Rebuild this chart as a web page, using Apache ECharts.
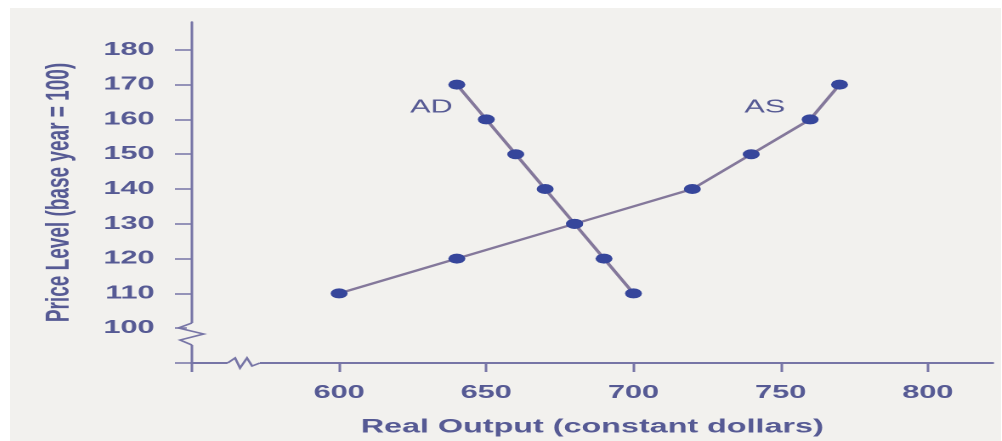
<!DOCTYPE html>
<html lang="en">
<head>
    <meta charset="UTF-8">
    <title>AD / AS</title>
    <script src="https://cdn.jsdelivr.net/npm/echarts@6.0.0/dist/echarts.min.js"></script>
    <style>
        *{
            margin: 0;
            padding: 0;
        }
        body{
            background: #fff;
            width: 1002px;
            height: 441px;
            overflow: hidden;
            position: relative;
        }
        /* the source figure is stretched sideways, so draw narrow and widen it */
        .container{
            position: absolute;
            left: 10px;
            top: 8px;
            width: 583px;
            height: 433px;
            transform: scaleX(1.7);
            transform-origin: 0 0;
        }
    </style>
</head>
<body>
<div class="container"></div>
<script>
    const adOutput = [640, 650, 660, 670, 680, 690, 700]
    const adPrice = [170, 160, 150, 140, 130, 120, 110]
    const asOutput = [600, 640, 680, 720, 740, 760, 770]
    const asPrice = [110, 120, 130, 140, 150, 160, 170]
    const xTicks = [600, 650, 700, 750, 800]
    const yTicks = [100, 110, 120, 130, 140, 150, 160, 170, 180]

    const font = '"Liberation Sans", Arial, sans-serif'
    const textColor = '#565a94'
    const axisColor = '#7775a6'
    const lineColor = '#84789b'
    const dotColor = '#36469b'
    const panel = '#f2f1ee'

    let container = document.querySelector('.container')
    let chart = echarts.init(container, null, {devicePixelRatio: 2})

    function curve(name, xs, ys, labelOffset) {
        let data = xs.map((x, i) => [x, ys[i]])
        // curve name sits next to its top point
        let last = ys.indexOf(Math.max(...ys))
        data[last] = {
            value: data[last],
            label: {
                show: true,
                formatter: name,
                position: 'inside',
                offset: labelOffset,
                color: textColor,
                fontFamily: font,
                fontSize: 18
            }
        }
        return {
            name,
            type: 'line',
            data,
            symbol: 'circle',
            symbolSize: 10,
            lineStyle: {color: lineColor, width: 2.2},
            itemStyle: {color: dotColor},
            emphasis: {disabled: true}
        }
    }

    let option = {
        backgroundColor: panel,
        animation: false,
        grid: {
            left: 107,
            right: 5,
            top: 14,
            bottom: 78,
            outerBoundsMode: 'none'
        },
        xAxis: {
            type: 'value',
            min: 550,
            max: 822,
            name: 'Real Output (constant dollars)',
            nameLocation: 'middle',
            nameGap: 55,
            nameTextStyle: {color: textColor, fontFamily: font, fontSize: 19, fontWeight: 'bold'},
            axisLine: {onZero: false, lineStyle: {color: axisColor, width: 2}},
            axisTick: {length: 9, lineStyle: {color: axisColor, width: 1.5}, customValues: [550].concat(xTicks)},
            axisLabel: {customValues: xTicks, margin: 21, color: textColor, fontFamily: font, fontSize: 18, fontWeight: 'bold'},
            splitLine: {show: false}
        },
        yAxis: {
            type: 'value',
            min: 90,
            max: 188,
            name: 'Price Level (base year = 100)',
            nameLocation: 'middle',
            nameGap: 68,
            nameTextStyle: {color: textColor, fontFamily: font, fontSize: 19, fontWeight: 'bold'},
            axisLine: {onZero: false, lineStyle: {color: axisColor, width: 1.5}},
            axisTick: {length: 10, lineStyle: {color: axisColor, width: 1.5}, customValues: [90].concat(yTicks)},
            axisLabel: {customValues: yTicks, margin: 22, color: textColor, fontFamily: font, fontSize: 18, fontWeight: 'bold'},
            splitLine: {show: false}
        },
        graphic: [
            // break marks on both axes
            {type: 'rect', shape: {x: 104, y: 315, width: 6, height: 22}, style: {fill: panel}, z: 100},
            {type: 'polyline', shape: {points: [[107, 315], [99, 320], [114, 326], [100, 332], [107, 337]]},
                style: {stroke: axisColor, lineWidth: 1.5, fill: null}, z: 101},
            {type: 'rect', shape: {x: 128, y: 352, width: 19, height: 6}, style: {fill: panel}, z: 100},
            {type: 'polyline', shape: {points: [[128, 355], [132.4, 350], [135.3, 360], [139.4, 350], [142.4, 358], [147, 355]]},
                style: {stroke: axisColor, lineWidth: 1.5, fill: null}, z: 101}
        ],
        series: [
            curve('AS', asOutput, asPrice, [-44, 23]),
            curve('AD', adOutput, adPrice, [-15, 23])
        ]
    }

    chart.setOption(option)
</script>
</body>
</html>
